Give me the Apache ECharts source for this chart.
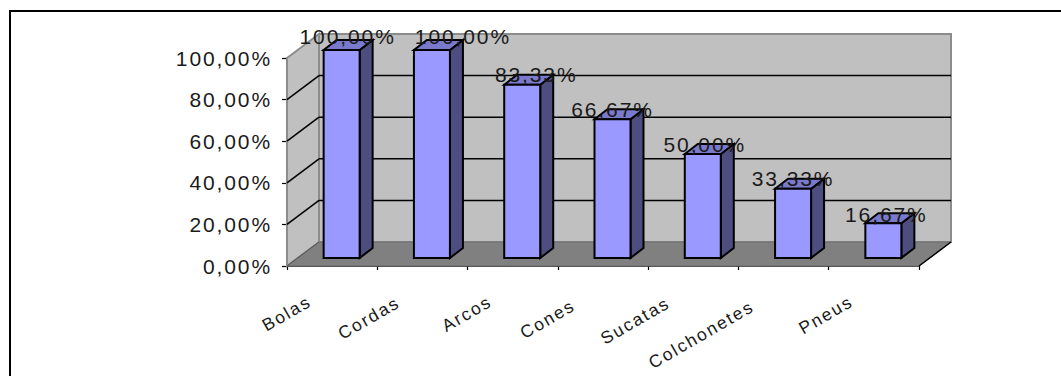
<!DOCTYPE html>
<html>
<head>
<meta charset="utf-8">
<style>
  html, body { margin: 0; padding: 0; background: #fff; }
  #chart { width: 1061px; height: 376px; }
  #chart svg text { letter-spacing: 1.9px; }
</style>
<script src="https://cdn.jsdelivr.net/npm/echarts@6/dist/echarts.min.js"></script>
</head>
<body>
<div id="chart"></div>
<script>
const categories = ['Bolas', 'Cordas', 'Arcos', 'Cones', 'Sucatas', 'Colchonetes', 'Pneus'];
const percentValues = [100, 100, 83.33, 66.67, 50, 33.33, 16.67];
const percentLabels = ['100,00%', '100,00%', '83,33%', '66,67%', '50,00%', '33,33%', '16,67%'];
const wallTicks = [0, 20, 40, 60, 80, 100];

// Hand-placed value text: horizontal and vertical nudges per bar, in pixels.
const labelNudgeX = [6, 31, 14, 0, 2, 0, 3];
const labelNudgeY = [-4, -4, 0, 0, 0, 0, 1];
// Extra pull of each slanted category name away from its tick, in pixels.
const categoryPull = [0, 2, 0, 8, 3, 10, 0];

// Oblique projection of the depth axis, in pixels.
const DEPTH_X = 32, DEPTH_Y = -24;
const BAR_NEAR_X = 10.7, BAR_NEAR_Y = -8;
const BAR_DEEP_X = 13, BAR_DEEP_Y = -10;
const BAR_WIDTH = 36;
const FONT = '"Liberation Sans", Arial, sans-serif';

const poly = (points, fill, stroke, lineWidth) => ({
  type: 'polygon',
  shape: { points },
  style: { fill, stroke: stroke || 'none', lineWidth: lineWidth || 0, lineJoin: 'miter' }
});
const seg = (a, b, stroke, lineWidth) => ({
  type: 'line',
  shape: { x1: a[0], y1: a[1], x2: b[0], y2: b[1] },
  style: { stroke, lineWidth }
});

// Back wall, side wall, floor and their grid lines.
function renderWalls(params, api) {
  const left = params.coordSys.x, right = left + params.coordSys.width;
  const y0 = api.coord([0, 0])[1], yTop = api.coord([0, 100])[1];
  const dx = DEPTH_X, dy = DEPTH_Y;
  const children = [
    poly([[left + dx, yTop + dy], [right + dx, yTop + dy], [right + dx, y0 + dy], [left + dx, y0 + dy]], '#c0c0c0', '#8c8c8c', 2),
    poly([[left, yTop], [left + dx, yTop + dy], [left + dx, y0 + dy], [left, y0]], '#c0c0c0', '#8c8c8c', 2),
    poly([[left, y0], [left + dx, y0 + dy], [right + dx, y0 + dy], [right, y0]], '#808080', '#6e6e6e', 1)
  ];
  wallTicks.filter(t => t > 0 && t < 100).forEach(t => {
    const y = api.coord([0, t])[1];
    children.push(seg([left + dx, y + dy], [right + dx, y + dy], '#000', 1.5));
    children.push(seg([left, y], [left + dx, y + dy], '#000', 1.5));
  });
  children.push(seg([left, y0], [left + dx, y0 + dy], '#555', 1));
  children.push(seg([right, y0], [right + dx, y0 + dy], '#000', 1.5));
  return { type: 'group', children };
}

// One oblique box per category, plus its value text.
function renderBar(params, api) {
  const idx = api.value(0);
  const value = api.value(1);
  const base = api.coord([idx, 0]);
  const top = api.coord([idx, value]);
  const x0 = base[0] + BAR_NEAR_X - BAR_WIDTH / 2 - 1.2;
  const x1 = x0 + BAR_WIDTH;
  const yb = base[1] + BAR_NEAR_Y;
  const yt = top[1] + BAR_NEAR_Y;
  const dx = BAR_DEEP_X, dy = BAR_DEEP_Y;
  return {
    type: 'group',
    children: [
      poly([[x1, yt], [x1 + dx, yt + dy], [x1 + dx, yb + dy], [x1, yb]], '#4d4d80', '#000', 2),
      poly([[x0, yt], [x0 + dx, yt + dy], [x1 + dx, yt + dy], [x1, yt]], '#7a7acc', '#000', 2),
      poly([[x0, yt], [x1, yt], [x1, yb], [x0, yb]], '#9999ff', '#000', 2),
      {
        type: 'text',
        style: {
          x: (x0 + x1) / 2 + labelNudgeX[idx], y: yt + dy + labelNudgeY[idx],
          text: percentLabels[idx],
          align: 'center', verticalAlign: 'middle',
          fontFamily: FONT, fontSize: 21, fill: '#1a1a1a'
        }
      }
    ]
  };
}

const chart = echarts.init(document.getElementById('chart'), null, { renderer: 'svg', width: 1061, height: 376 });
chart.setOption({
  animation: false,
  backgroundColor: '#fff',
  graphic: [{
    type: 'polyline',
    shape: { points: [[10, 376], [10, 11], [1061, 11]] },
    style: { fill: 'none', stroke: '#000', lineWidth: 2 },
    silent: true
  }],
  grid: { left: 287, top: 58, width: 632, height: 208 },
  xAxis: {
    type: 'category',
    data: categories.map((name, i) => ({
      value: name,
      textStyle: { padding: [52, 26 + categoryPull[i], 0, 0] }
    })),
    boundaryGap: true,
    axisLine: { show: true, lineStyle: { color: '#000', width: 1.5 } },
    axisTick: { show: true, alignWithLabel: false, length: 4, lineStyle: { color: '#000', width: 1.2 } },
    axisLabel: {
      interval: 0, rotate: 30, margin: 21,
      fontFamily: FONT, fontSize: 17.5, color: '#1a1a1a'
    }
  },
  yAxis: {
    type: 'value',
    min: 0, max: 100, interval: 20,
    axisLine: { show: true, lineStyle: { color: '#000', width: 1.5 } },
    axisTick: { show: true, length: 5, lineStyle: { color: '#000', width: 1.2 } },
    splitLine: { show: false },
    axisLabel: {
      margin: 15,
      padding: [3, 0, 0, 0],
      formatter: v => v + ',00%',
      fontFamily: FONT, fontSize: 21, color: '#1a1a1a'
    }
  },
  series: [
    {
      type: 'custom', coordinateSystem: 'cartesian2d', silent: true, z: 1,
      renderItem: renderWalls, data: [[0, 0]], clip: false
    },
    {
      type: 'custom', coordinateSystem: 'cartesian2d', silent: true, z: 3,
      renderItem: renderBar,
      data: percentValues.map((v, i) => [i, v]),
      encode: { x: 0, y: 1 }, clip: false
    }
  ]
});
</script>
</body>
</html>
